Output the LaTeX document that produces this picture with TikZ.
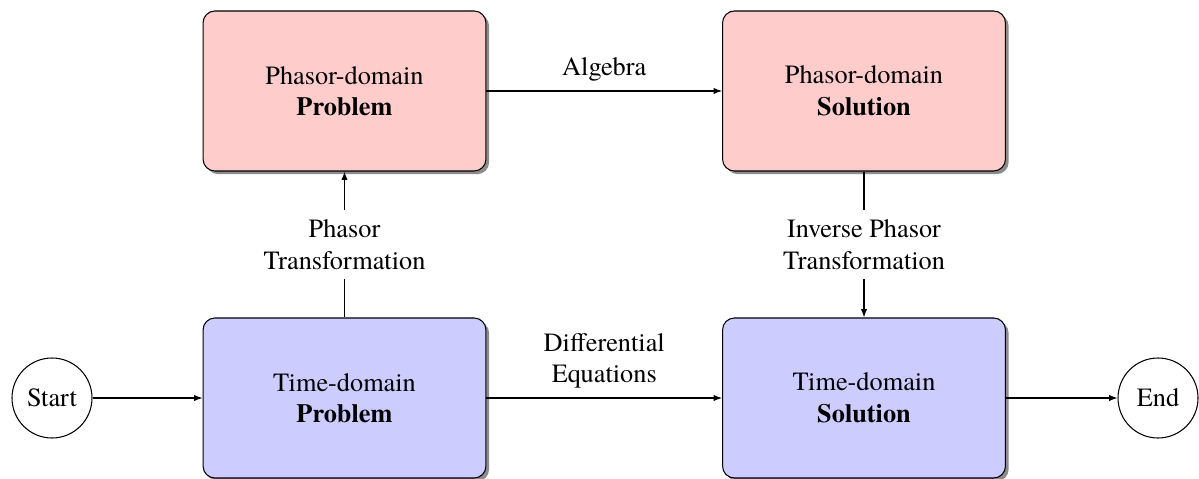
\documentclass[tikz,border=0pt]{standalone}
\usepackage{fontspec}
\setmainfont{texgyretermes-regular.otf}[BoldFont=texgyretermes-bold.otf,ItalicFont=texgyretermes-italic.otf]
\usetikzlibrary{arrows.meta,shadows}
\begin{document}
\begin{tikzpicture}[x=0.38pt,y=-0.38pt,
  font=\fontsize{10}{12}\selectfont,
  box/.style={draw, line width=0.4pt, rounded corners=4.5pt, minimum width=107.5pt, minimum height=60.8pt, align=center, inner sep=0pt,
    drop shadow={shadow xshift=1.2pt, shadow yshift=-1.2pt, fill=black!45, opacity=1}},
  pbox/.style={box, fill=red!20},
  tbox/.style={box, fill=blue!20},
  term/.style={draw, circle, line width=0.4pt, minimum size=30.4pt, inner sep=0pt},
  arr/.style={-{Latex[length=3.2pt,width=2.4pt]}, line width=0.4pt},
  lbl/.style={fill=white, align=center, inner sep=3.6pt}]
\useasboundingbox (0,0) rectangle (1199,479);
\node[pbox] (pp) at (344.5,91) {Phasor-domain\\\textbf{Problem}};
\node[pbox] (ps) at (864,91) {Phasor-domain\\\textbf{Solution}};
\node[tbox] (tp) at (344.5,398) {Time-domain\\\textbf{Problem}};
\node[tbox] (ts) at (864,398) {Time-domain\\\textbf{Solution}};
\node[term] (start) at (52,398) {Start};
\node[term] (end) at (1158,398) {End};
\draw[arr] (start) -- (tp);
\draw[arr] (ts) -- (end);
\draw[arr] (pp) -- node[above, inner sep=3.6pt] (alg) {Algebra} (ps);
\draw[arr] (tp) -- node[above, align=center, inner sep=3.4pt] (de) {Differential\\Equations} (ts);
\draw[arr] (tp) -- node[lbl] (pt) {Phasor\\Transformation} (pp);
\draw[arr] (ps) -- node[lbl] (ipt) {Inverse Phasor\\Transformation} (ts);
\end{tikzpicture}
\end{document}
